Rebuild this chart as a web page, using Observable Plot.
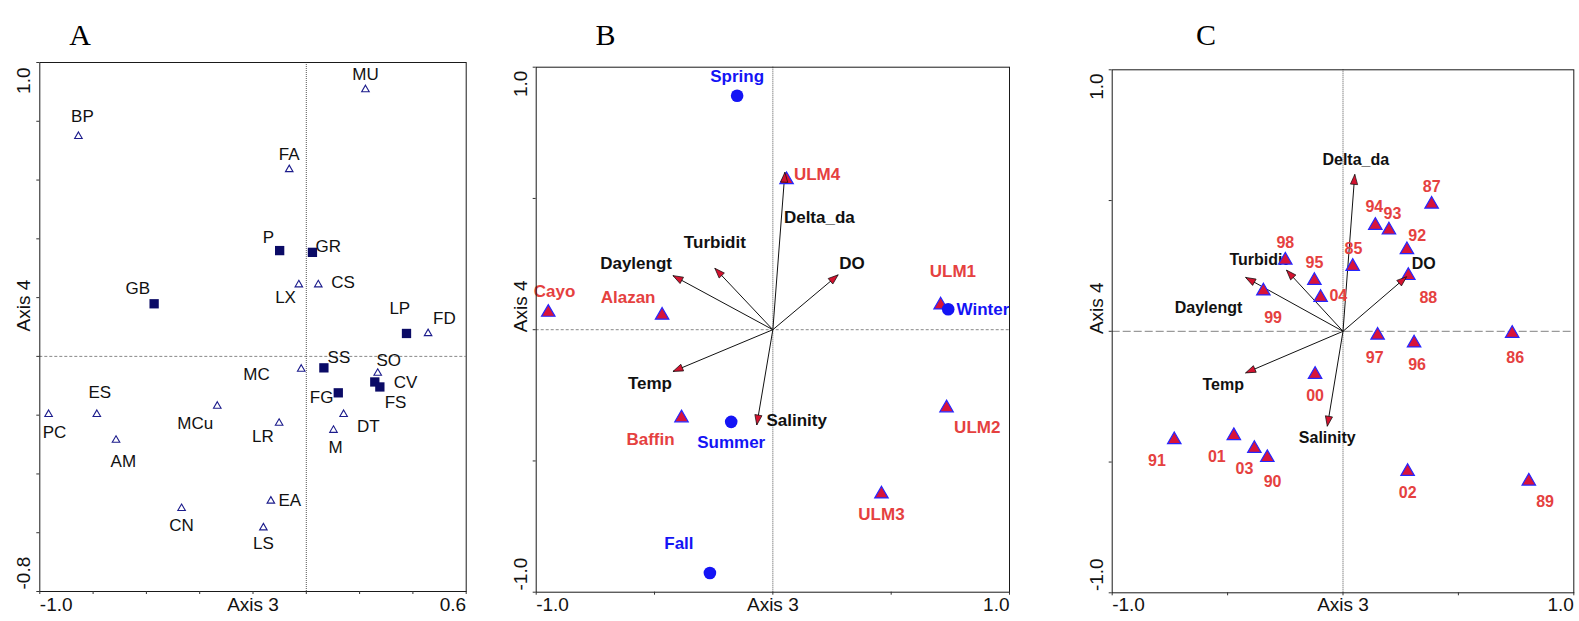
<!DOCTYPE html>
<html>
<head>
<meta charset="utf-8">
<script src="https://cdn.jsdelivr.net/npm/d3@7"></script>
<script src="https://cdn.jsdelivr.net/npm/@observablehq/plot@0.6"></script>
<style>
  html, body { margin: 0; padding: 0; background: #fff; }
  body { width: 1579px; height: 621px; position: relative; overflow: hidden; }
</style>
</head>
<body>
<script>
// ---------------- DATA ----------------
// Panel A: open triangles (taxa)
const taxaA      = ["MU","BP","FA","LX","CS","FD","MC","SO","DT","M","LR","MCu","PC","ES","AM","CN","EA","LS"];
const taxaAxis3A = [0.222,-0.855,-0.064,-0.028,0.045,0.457,-0.019,0.268,0.140,0.102,-0.102,-0.334,-0.967,-0.786,-0.714,-0.468,-0.133,-0.161];
const taxaAxis4A = [0.908,0.749,0.636,0.244,0.244,0.078,-0.043,-0.057,-0.197,-0.251,-0.227,-0.169,-0.197,-0.197,-0.285,-0.517,-0.492,-0.583];
// Panel A: filled squares
const groupsA      = ["P","GR","GB","LP","SS","FG","CV","FS"];
const groupsAxis3A = [-0.100,0.023,-0.571,0.376,0.066,0.120,0.257,0.276];
const groupsAxis4A = [0.360,0.354,0.179,0.078,-0.039,-0.124,-0.087,-0.104];

// Panel B: sites (triangles) and seasons (circles)
const sitesB      = ["ULM4","Cayo","Alazan","ULM1","ULM2","ULM3","Baffin"];
const sitesAxis3B = [0.058,-0.949,-0.468,0.709,0.734,0.459,-0.386];
const sitesAxis4B = [0.571,0.066,0.055,0.094,-0.298,-0.626,-0.336];
const seasonsB      = ["Spring","Winter","Summer","Fall"];
const seasonsAxis3B = [-0.151,0.741,-0.176,-0.266];
const seasonsAxis4B = [0.891,0.078,-0.351,-0.927];

// Environmental vectors (panels B and C)
const envNames = ["Delta_da","Daylengt","Turbidit","DO","Temp","Salinity"];
const envAxis3 = [0.051,-0.422,-0.245,0.276,-0.422,-0.068];
const envAxis4 = [0.600,0.206,0.234,0.209,-0.159,-0.363];

// Panel C: years
const yearsC      = ["85","86","87","88","89","90","91","92","93","94","95","96","97","98","99","00","01","02","03","04"];
const yearsAxis3C = [0.042,0.733,0.384,0.283,0.805,-0.328,-0.731,0.277,0.199,0.140,-0.124,0.308,0.150,-0.250,-0.345,-0.121,-0.473,0.280,-0.384,-0.097];
const yearsAxis4C = [0.248,-0.008,0.486,0.213,-0.573,-0.483,-0.415,0.312,0.387,0.405,0.194,-0.045,-0.015,0.272,0.154,-0.165,-0.399,-0.536,-0.448,0.129];

// Axis domains and ticks
const xDomainA = [-1.0, 0.6];
const yDomainA = [-0.8, 1.0];
const xTicksA = [-1.0,-0.8,-0.6,-0.4,-0.2,0,0.2,0.4,0.6];
const yTicksA = [-0.8,-0.6,-0.4,-0.2,0,0.2,0.4,0.6,0.8,1.0];
const domainBC = [-1.0, 1.0];
const ticksBC = [-1.0,-0.5,0,0.5,1.0];
const panelLetters = ["A","B","C"];
const axisTitles = ["Axis 3","Axis 4"];

// ---------------- LABEL PLACEMENT (pixel offsets, anchor) ----------------
const placeA = {
  MU:[0,-14.6], BP:[4,-20], FA:[0,-14.6], P:[-11.3,-12.7], GR:[3,-6.3,"start"], GB:[-16.3,-15],
  LX:[-13.3,12.7], CS:[13,-2,"start"], LP:[-6.7,-25], FD:[16.3,-14.6], SS:[15,-10.3], MC:[-44.7,5.5],
  SO:[11,-12.3], CV:[30.7,0.8], FS:[15.7,15.4], FG:[-16.7,4.4], DT:[24.7,11.9], M:[2,17.8],
  LR:[-16.3,13], MCu:[-22,17], PC:[6,17.8], ES:[3,-21.8], AM:[7.3,21.8], CN:[0,17], EA:[19,0], LS:[0,15.4]
};
const placeB = {
  Spring:[0,-19], Winter:[8.3,0,"start"], Summer:[0,20.6], Fall:[-31,-29.7], ULM4:[7.3,-4.8,"start"],
  Cayo:[6.3,-20.6], Alazan:[-34,-18.2], ULM1:[12.3,-33.3], ULM2:[30.7,19.8], ULM3:[0,21], Baffin:[-31,21.4]
};
const envPlaceB = {
  Delta_da:[-1,45.5,"start"], Turbidit:[0,-25.7], Daylengt:[-1,-11.9,"end"], DO:[1,-11,"start"],
  Temp:[-1,12.3,"end"], Salinity:[9.7,-4,"start"]
};
const placeC = {
  "87":[0,-17.8], "94":[-1,-18.2], "93":[3.5,-16.6], "92":[10.3,-13.9], "98":[0,-17.4], "85":[0.7,-17.4],
  "88":[20,22.6], "95":[0,-17.8], "99":[9.7,26.9], "04":[17.7,-1.2], "97":[-3,22.6], "96":[3,21.4],
  "86":[3,24.6], "00":[0,21.8], "91":[-17.3,21], "01":[-17,21], "03":[-10,20.2], "90":[5.3,23.8],
  "02":[0,21], "89":[16.3,21]
};
const envPlaceC = {
  Delta_da:[1,-15], DO:[5,-12.7,"start"], Turbidit:[1.3,-10.7,"end"], Daylengt:[-3.3,30.9,"end"],
  Temp:[-1.7,11.9,"end"], Salinity:[0,11.9]
};

// ---------------- HELPERS ----------------
const FONT = "'Liberation Sans', Arial, Helvetica, sans-serif";
const fmt = d => d.toFixed(1);
const rowsOf = (names, xs, ys) => names.map((name, i) => ({name, x: xs[i], y: ys[i]}));

function placedText(rows, place, k, opts) {
  const get = r => place[r.name] || [0, 0, "middle"];
  return ["start", "middle", "end"].map(a => Plot.text(
    rows.filter(r => (get(r)[2] || "middle") === a),
    {x: r => r.x + get(r)[0] / k.x, y: r => r.y - get(r)[1] / k.y, text: "name", textAnchor: a, ...opts}
  ));
}

const headSymbol = {draw(ctx) { ctx.moveTo(0, 0); ctx.lineTo(-3.6, 10); ctx.lineTo(3.6, 10); ctx.closePath(); }};

function arrowHeads(rows, k) {
  return Plot.dot(rows, {
    x: "x", y: "y", symbol: headSymbol,
    rotate: r => Math.atan2(r.x * k.x, r.y * k.y) * 180 / Math.PI,
    fill: "#d4122f", stroke: "#111", strokeWidth: 0.7
  });
}

function makePanel(cfg) {
  const {left, width, height, mt, mr, mb, ml, xd, yd, xTicks, yTicks, letter, letterDx, letterDy,
         yLabDx, topDy, botDy, axis4Dy, xLabDy, hRule, vRule, marks} = cfg;
  const k = {x: (width - ml - mr) / (xd[1] - xd[0]), y: (height - mt - mb) / (yd[1] - yd[0])};
  const svg = Plot.plot({
    width, height, marginTop: mt, marginRight: mr, marginBottom: mb, marginLeft: ml,
    x: {domain: xd, axis: null}, y: {domain: yd, axis: null},
    style: {fontFamily: FONT, background: "white", color: "#111"},
    marks: [
      Plot.ruleY([0], hRule),
      Plot.ruleX([0], vRule),
      ...marks(k),
      Plot.frame({stroke: "#1a1a1a", strokeWidth: 1}),
      Plot.axisX(xTicks, {tickSize: 3, tickFormat: () => "", label: null, stroke: "#333"}),
      Plot.axisY(yTicks, {tickSize: 3, tickFormat: () => "", label: null, stroke: "#333"}),
      // x end labels + title
      Plot.text([xd[0]], {x: d => d, text: fmt, frameAnchor: "bottom", dy: xLabDy, textAnchor: "start", fontSize: 19, fill: "#111"}),
      Plot.text([xd[1]], {x: d => d, text: fmt, frameAnchor: "bottom", dy: xLabDy, textAnchor: "end", fontSize: 19, fill: "#111"}),
      Plot.text([axisTitles[0]], {text: d => d, frameAnchor: "bottom", dy: xLabDy, fontSize: 19, fill: "#111"}),
      // y end labels + title (rotated)
      Plot.text([yd[1]], {y: d => d, text: fmt, frameAnchor: "left", dx: yLabDx, dy: topDy, rotate: -90, textAnchor: "end", fontSize: 19, fill: "#111"}),
      Plot.text([yd[0]], {y: d => d, text: fmt, frameAnchor: "left", dx: yLabDx, dy: botDy, rotate: -90, textAnchor: "start", fontSize: 19, fill: "#111"}),
      Plot.text([axisTitles[1]], {text: d => d, frameAnchor: "left", dx: yLabDx, dy: axis4Dy, rotate: -90, fontSize: 19, fill: "#111"}),
      // panel letter
      Plot.text([letter], {text: d => d, frameAnchor: "top-left", dx: letterDx, dy: letterDy, fontSize: 30,
        fontFamily: "'Liberation Serif', 'Times New Roman', serif", fill: "#000"})
    ]
  });
  svg.style.position = "absolute";
  svg.style.left = left + "px";
  svg.style.top = "0px";
  document.body.appendChild(svg);
}

// ---------------- PANELS ----------------
const taxaRowsA = rowsOf(taxaA, taxaAxis3A, taxaAxis4A);
const groupRowsA = rowsOf(groupsA, groupsAxis3A, groupsAxis4A);
const siteRowsB = rowsOf(sitesB, sitesAxis3B, sitesAxis4B);
const seasonRowsB = rowsOf(seasonsB, seasonsAxis3B, seasonsAxis4B);
const envRows = rowsOf(envNames, envAxis3, envAxis4);
const yearRowsC = rowsOf(yearsC, yearsAxis3C, yearsAxis4C);

const RED_TEXT = "#e5413f";
const RED_FILL = "#d8143a";
const BLUE_EDGE = "#2626ff";
const BLUE = "#1414f5";

makePanel({
  left: 0, width: 490, height: 621, mt: 62, mr: 24.3, mb: 30, ml: 39.3,
  xd: xDomainA, yd: yDomainA, xTicks: xTicksA, yTicks: yTicksA,
  letter: panelLetters[0], letterDx: 29.4, letterDy: -38.7,
  yLabDx: -16.3, topDy: 5, botDy: -2, axis4Dy: 4.5, xLabDy: 19,
  hRule: {stroke: "#888", strokeDasharray: "3,2"},
  vRule: {stroke: "#555", strokeDasharray: "1,1"},
  marks: k => [
    Plot.dot(taxaRowsA, {x: "x", y: "y", symbol: "triangle", r: 2.8, fill: "white", stroke: "#1c1c8c", strokeWidth: 1.1}),
    Plot.dot(groupRowsA, {x: "x", y: "y", symbol: "square", r: 5.25, fill: "#0b0b66", stroke: "none"}),
    ...placedText([...taxaRowsA, ...groupRowsA], placeA, k, {fill: "#111", fontSize: 17})
  ]
});

makePanel({
  left: 500, width: 530, height: 621, mt: 66.7, mr: 21, mb: 29.3, ml: 35.7,
  xd: domainBC, yd: domainBC, xTicks: ticksBC, yTicks: ticksBC,
  letter: panelLetters[1], letterDx: 59.3, letterDy: -43.4,
  yLabDx: -15.7, topDy: 3.5, botDy: -1.7, axis4Dy: 2.5, xLabDy: 18.5,
  hRule: {stroke: "#888", strokeDasharray: "3,2"},
  vRule: {stroke: "#555", strokeDasharray: "1,1"},
  marks: k => [
    Plot.link(envRows, {x1: 0, y1: 0, x2: "x", y2: "y", stroke: "#111", strokeWidth: 1}),
    ...placedText(envRows, envPlaceB, k, {fill: "#111", fontWeight: "bold", fontSize: 17}),
    Plot.dot(siteRowsB, {x: "x", y: "y", symbol: "triangle", r: 5, fill: RED_FILL, stroke: BLUE_EDGE, strokeWidth: 1.2}),
    Plot.dot(seasonRowsB, {x: "x", y: "y", r: 6.3, fill: BLUE, stroke: "none"}),
    arrowHeads(envRows, k),
    ...placedText(siteRowsB, placeB, k, {fill: RED_TEXT, fontWeight: "bold", fontSize: 17}),
    ...placedText(seasonRowsB, placeB, k, {fill: BLUE, fontWeight: "bold", fontSize: 17})
  ]
});

makePanel({
  left: 1080, width: 499, height: 621, mt: 69.3, mr: 5.7, mb: 28.7, ml: 31.7,
  xd: domainBC, yd: domainBC, xTicks: ticksBC, yTicks: ticksBC,
  letter: panelLetters[2], letterDx: 83.8, letterDy: -46,
  yLabDx: -15, topDy: 3.5, botDy: -1.7, axis4Dy: 2.8, xLabDy: 18,
  hRule: {stroke: "#9a9a9a", strokeDasharray: "8,3", strokeWidth: 1.2},
  vRule: {stroke: "#555", strokeDasharray: "1,1"},
  marks: k => [
    Plot.link(envRows, {x1: 0, y1: 0, x2: "x", y2: "y", stroke: "#111", strokeWidth: 1}),
    ...placedText(envRows, envPlaceC, k, {fill: "#111", fontWeight: "bold", fontSize: 16}),
    Plot.dot(yearRowsC, {x: "x", y: "y", symbol: "triangle", r: 5, fill: RED_FILL, stroke: BLUE_EDGE, strokeWidth: 1.2}),
    arrowHeads(envRows, k),
    ...placedText(yearRowsC, placeC, k, {fill: RED_TEXT, fontWeight: "bold", fontSize: 16})
  ]
});
</script>
</body>
</html>
